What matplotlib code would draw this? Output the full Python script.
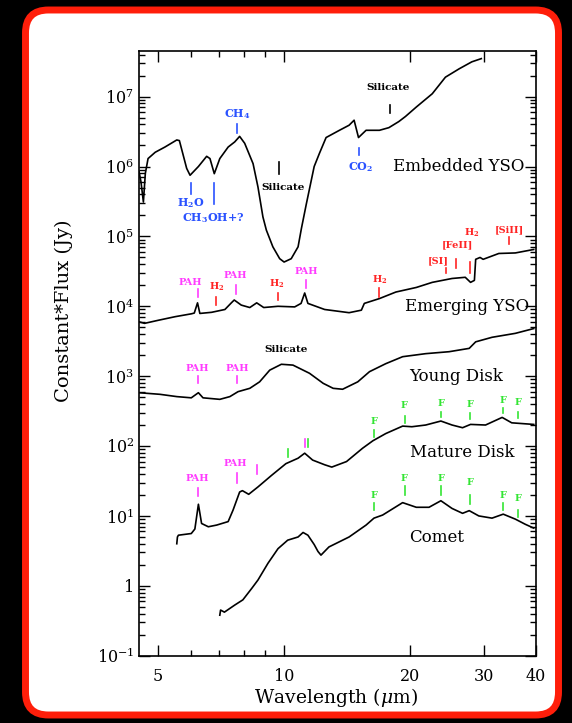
import numpy as np
import matplotlib
matplotlib.use('Agg')
import matplotlib.pyplot as plt
from matplotlib.patches import FancyBboxPatch
from matplotlib.ticker import FixedLocator, FuncFormatter, NullFormatter

plt.rcParams['font.family'] = 'DejaVu Serif'
plt.rcParams['mathtext.fontset'] = 'dejavuserif'

# Spectra (wavelength in micron, constant*flux in Jy)
embedded_wl = [4.50, 4.55, 4.61, 4.66, 4.73, 4.92, 5.19, 5.54, 5.62, 5.85, 5.96, 6.24, 6.53, 6.65,
               6.81, 7.02, 7.35, 7.62, 7.83, 8.05, 8.43, 8.66, 8.90, 9.07, 9.40, 9.76, 10.0, 10.4,
               10.8, 11.0, 11.3, 11.8, 12.15, 12.6, 13.56, 14.3, 14.7, 15.06, 15.7, 16.9, 17.8,
               18.8, 19.5, 20.7, 22.6, 24.3, 26.2, 28.1, 29.6]
embedded_flux = [8.5e5, 6e5, 3.1e5, 8e5, 1.3e6, 1.6e6, 1.9e6, 2.4e6, 2.35e6, 9.4e5, 7.5e5, 1.0e6,
                 1.4e6, 1.3e6, 7.9e5, 1.3e6, 1.9e6, 2.25e6, 2.7e6, 2.15e6, 1.1e6, 5.1e5, 1.9e5,
                 1.23e5, 7.1e4, 4.8e4, 4.3e4, 4.8e4, 7.1e4, 1.3e5, 2.9e5, 1.0e6, 1.55e6, 2.6e6,
                 3.3e6, 3.9e6, 4.6e6, 2.6e6, 3.3e6, 3.3e6, 3.6e6, 4.4e6, 5.2e6, 7.1e6, 1.1e7,
                 1.9e7, 2.5e7, 3.15e7, 3.5e7]

emerging_wl = [4.50, 4.64, 5.0, 5.49, 6.0, 6.1, 6.21, 6.29, 6.71, 7.22, 7.48, 7.6, 7.9, 8.28,
               8.6, 8.94, 9.67, 10.6, 10.98, 11.2, 11.4, 12.5, 14.3, 15.3, 15.55, 16.9, 18.5,
               20.7, 22.6, 25.2, 27.1, 27.9, 28.5, 28.7, 29.4, 29.9, 32.6, 35.7, 39.5]
emerging_flux = [6.0e3, 5.7e3, 6.3e3, 7.1e3, 7.8e3, 8.0e3, 1.12e4, 7.9e3, 8.2e3, 9.0e3, 1.12e4,
                 1.23e4, 1.04e4, 9.6e3, 1.12e4, 9.6e3, 1.0e4, 9.8e3, 1.1e4, 1.55e4, 1.1e4, 9.0e3,
                 8.1e3, 8.8e3, 1.1e4, 1.29e4, 1.6e4, 1.86e4, 2.2e4, 2.5e4, 2.6e4, 2.2e4, 2.35e4,
                 4.7e4, 5.0e4, 4.7e4, 5.7e4, 5.8e4, 6.5e4]

young_wl = [4.5, 5.05, 5.54, 6.0, 6.24, 6.4, 7.02, 7.42, 7.76, 8.28, 8.74, 9.24, 9.85, 10.5,
            11.5, 12.4, 13.1, 13.8, 15.0, 16.0, 17.5, 19.2, 21.8, 24.8, 27.7, 28.7, 31.4, 35.7, 39.5]
young_flux = [5.8e2, 5.5e2, 5.1e2, 4.9e2, 5.8e2, 4.9e2, 4.66e2, 5.1e2, 6.0e2, 6.7e2, 8.3e2,
              1.22e3, 1.48e3, 1.44e3, 1.1e3, 7.9e2, 6.7e2, 6.5e2, 8.3e2, 1.16e3, 1.51e3, 1.9e3,
              2.1e3, 2.24e3, 2.5e3, 3.1e3, 3.6e3, 4.1e3, 4.8e3]

mature_wl = [5.54, 5.56, 5.59, 6.0, 6.12, 6.24, 6.35, 6.59, 6.9, 7.35, 7.55, 7.83, 7.95, 8.23,
             8.66, 9.33, 10.1, 10.8, 11.2, 11.7, 12.5, 13.0, 14.1, 15.4, 16.3, 17.5, 19.2, 20.2,
             21.8, 23.7, 25.2, 26.7, 27.9, 30.3, 33.2, 35.0, 39.5]
mature_flux = [4.0, 5.0, 5.3, 5.6, 6.5, 14.7, 7.8, 7.0, 7.4, 8.3, 12.1, 22, 23, 20.4, 26, 38, 56,
               67, 79, 63, 54, 50, 60, 93, 119, 151, 193, 189, 200, 228, 200, 183, 204, 200, 257,
               215, 204]

comet_wl = [7.02, 7.05, 7.2, 7.62, 7.97, 8.37, 8.66, 9.15, 9.67, 10.2, 10.8, 11.1, 11.4, 11.8,
            12.05, 12.25, 12.8, 14.3, 15.7, 16.4, 17.2, 19.2, 20.7, 22.2, 23.7, 25.2, 26.7, 27.7,
            29.2, 31.4, 33.4, 35.7, 37.7, 39.5]
comet_flux = [0.38, 0.45, 0.42, 0.53, 0.63, 0.92, 1.21, 2.1, 3.4, 4.5, 5.0, 5.8, 5.3, 3.9, 3.1,
              2.75, 3.6, 5.0, 7.4, 9.3, 10.3, 15.5, 13.3, 13.3, 16.5, 12.8, 10.9, 11.9, 10.0,
              9.3, 10.6, 9.0, 7.6, 6.7]

BLUE = '#2a52ff'
MAGENTA = '#ff3cff'
RED = '#ff2424'
GREEN = '#33e533'

H2 = r"H$_\mathbf{2}$"

# (label, colour, tick wavelength, tick low, tick high, label wavelength, label flux)
embedded_feats = [
    (r"CH$_\mathbf{4}$", BLUE, 7.72, 3.0e6, 4.05e6, 7.72, 5.6e6),
    (r"H$_\mathbf{2}$O", BLUE, 5.99, 4.0e5, 5.85e5, 5.99, 2.97e5),
    (r"CH$_\mathbf{3}$OH+?", BLUE, 6.79, 2.9e5, 5.85e5, 6.79, 1.81e5),
    ("Silicate", 'black', 9.70, 7.8e5, 1.17e6, 9.93, 5.0e5),
    (r"CO$_\mathbf{2}$", BLUE, 15.13, 1.46e6, 1.83e6, 15.2, 9.7e5),
    ("Silicate", 'black', 17.9, 5.75e6, 7.6e6, 17.7, 1.35e7),
]
emerging_feats = [
    ("PAH", MAGENTA, 6.21, 1.36e4, 1.76e4, 5.98, 2.17e4),
    (H2, RED, 6.87, 1.06e4, 1.37e4, 6.90, 1.9e4),
    ("PAH", MAGENTA, 7.69, 1.5e4, 2.0e4, 7.66, 2.8e4),
    (H2, RED, 9.67, 1.23e4, 1.56e4, 9.58, 2.1e4),
    ("PAH", MAGENTA, 11.3, 1.8e4, 2.37e4, 11.3, 3.1e4),
    (H2, RED, 16.9, 1.37e4, 1.82e4, 16.9, 2.4e4),
    ("[SI]", RED, 24.4, 3.0e4, 3.5e4, 23.4, 4.5e4),
    ("[FeII]", RED, 25.8, 3.5e4, 4.8e4, 25.9, 7.5e4),
    (H2, RED, 27.8, 2.96e4, 4.3e4, 28.1, 1.13e5),
    ("[SiII]", RED, 34.5, 7.9e4, 9.7e4, 34.6, 1.26e5),
]
young_feats = [
    ("PAH", MAGENTA, 6.21, 8.05e2, 1.0e3, 6.21, 1.3e3),
    ("PAH", MAGENTA, 7.72, 7.9e2, 1.0e3, 7.72, 1.3e3),
    ("Silicate", 'black', None, None, None, 10.1, 2.44e3),
]
mature_feats = [
    ("PAH", MAGENTA, 6.21, 19.3, 25, 6.21, 34.5),
    ("PAH", MAGENTA, 7.72, 29.3, 40.7, 7.66, 56.6),
    ("", MAGENTA, 8.6, 39.8, 53.5, None, None),
    ("", GREEN, 10.2, 68.9, 89.7, None, None),
    ("", MAGENTA, 11.2, 98, 125, None, None),
    ("", GREEN, 11.4, 98, 125, None, None),
    ("F", GREEN, 16.4, 136, 169, 16.4, 224),
    ("F", GREEN, 19.4, 215, 269, 19.4, 386),
    ("F", GREEN, 23.7, 262, 303, 23.7, 407),
    ("F", GREEN, 27.8, 243, 299, 27.8, 398),
    ("F", GREEN, 33.4, 294, 346, 33.4, 455),
    ("F", GREEN, 36.2, 249, 310, 36.2, 417),
]
comet_feats = [
    ("F", GREEN, 16.4, 12.1, 15.1, 16.4, 19.9),
    ("F", GREEN, 19.4, 19.9, 26.8, 19.4, 34.5),
    ("F", GREEN, 23.7, 19.9, 26.8, 23.7, 34.5),
    ("F", GREEN, 27.8, 14.8, 19.9, 27.8, 29.9),
    ("F", GREEN, 33.4, 12.1, 15.1, 33.4, 19.9),
    ("F", GREEN, 36.2, 9.75, 12.1, 36.2, 17.9),
]

names = ["Embedded YSO", "Emerging YSO", "Young Disk", "Mature Disk", "Comet"]
name_wl = [26.1, 27.4, 25.8, 26.6, 23.1]
name_flux = [9.9e5, 9.8e3, 1.0e3, 80, 4.94]

x_major = [5, 10, 20, 30, 40]
x_minor = [6, 7, 8, 9]
y_exponents = list(range(-1, 8))

W, H = 572, 723
fig = plt.figure(figsize=(W / 100, H / 100), dpi=100, facecolor='black')

# rounded white panel with red border, kept behind the axes
frame = FancyBboxPatch((25.5 / W, 1 - 715 / H), (558.5 - 25.5) / W, (715 - 10) / H,
                       boxstyle='round,pad=0,rounding_size=0.04', mutation_aspect=W / H,
                       transform=fig.transFigure, facecolor='white', edgecolor='#ff1e0a',
                       linewidth=5, zorder=-10)
fig.patches.append(frame)

ax = fig.add_axes([139 / W, 1 - 655.7 / H, (536 - 139) / W, (655.7 - 51) / H], zorder=5)
ax.patch.set_alpha(0)
ax.set_xscale('log')
ax.set_yscale('log')
ax.set_xlim(4.5, 40)
ax.set_ylim(0.1, 4.5e7)

for wl, fl in [(embedded_wl, embedded_flux), (emerging_wl, emerging_flux), (young_wl, young_flux),
               (mature_wl, mature_flux), (comet_wl, comet_flux)]:
    ax.plot(wl, fl, color='black', lw=1.2)

for feats in [embedded_feats, emerging_feats, young_feats, mature_feats, comet_feats]:
    for text, col, wl, lo, hi, lwl, ly in feats:
        if wl is not None:
            ax.plot([wl, wl], [lo, hi], color=col, lw=1.2)
        if text:
            if col == BLUE:
                fs = 8
            elif col == 'black':
                fs = 7.5
            else:
                fs = 7
            ax.text(lwl, ly, text, color=col, ha='center', va='center',
                    fontsize=fs, fontweight='bold')

for name, wl, fl in zip(names, name_wl, name_flux):
    ax.text(wl, fl, name, ha='center', va='center', fontsize=12)

ax.xaxis.set_major_locator(FixedLocator(x_major))
ax.xaxis.set_minor_locator(FixedLocator(x_minor))
ax.xaxis.set_major_formatter(FuncFormatter(lambda v, p: f"{v:g}"))
ax.xaxis.set_minor_formatter(NullFormatter())

y_major = [10.0 ** e for e in y_exponents]
y_minor = [m * 10.0 ** e for e in y_exponents for m in range(2, 10) if m * 10.0 ** e < 4.5e7]
ax.yaxis.set_major_locator(FixedLocator(y_major))
ax.yaxis.set_minor_locator(FixedLocator(y_minor))
ax.yaxis.set_minor_formatter(NullFormatter())


def yfmt(v, pos):
    e = int(round(np.log10(v)))
    if e == 0:
        return "1"
    return f"$10^{{{e}}}$"


ax.yaxis.set_major_formatter(FuncFormatter(yfmt))

ax.tick_params(which='both', direction='in', top=True, right=True, labelsize=11.5)
ax.tick_params(which='major', length=8, width=1)
ax.tick_params(which='minor', length=4, width=1)
ax.tick_params(axis='x', pad=9)
for s in ax.spines.values():
    s.set_linewidth(1.2)

ax.set_xlabel(r"Wavelength ($\mu$m)", fontsize=13.5)
ax.set_ylabel("Constant*Flux (Jy)", fontsize=14)
ax.xaxis.set_label_coords(0.496, -0.05)
ax.yaxis.set_label_coords(-0.165, 0.57)

fig.savefig('out.png', dpi=100, facecolor='black')
